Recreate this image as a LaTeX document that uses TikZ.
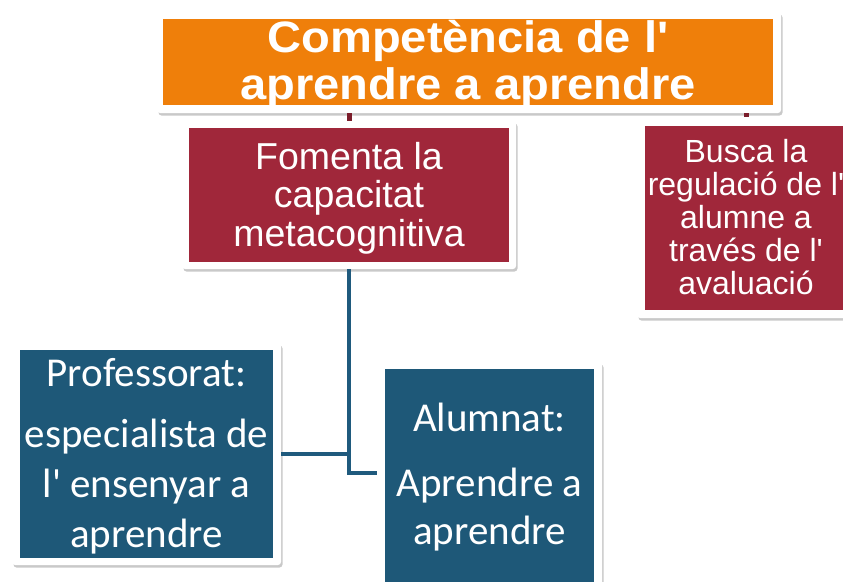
\documentclass[tikz,border=0pt]{standalone}
\usepackage{fontspec}
\setmainfont{Liberation Sans}
\newfontfamily\arialfont{Liberation Sans}
\newfontfamily\titlefont[FakeStretch=1.07]{Liberation Sans}
\newfontfamily\calfont{Carlito}
\usetikzlibrary{shadows}
\definecolor{orangefill}{HTML}{EF7F0A}
\definecolor{redfill}{HTML}{A0273A}
\definecolor{bluefill}{HTML}{1E5878}
\definecolor{redline}{HTML}{7B1D2B}
\definecolor{blueline}{HTML}{1F5A7D}
\tikzset{
  frame/.style={fill=white, rounded corners=3pt, inner sep=0pt, outer sep=0pt,
    drop shadow={shadow xshift=1.5pt, shadow yshift=-2.5pt, opacity=0.3, fill=black!70}},
  boxfill/.style={inner sep=0pt, outer sep=0pt},
  boxtext/.style={text=white, align=center, inner sep=0pt},
  redconn/.style={draw=redline, line width=5pt},
  blueconn/.style={draw=blueline, line width=4.5pt},
}
\begin{document}
\begin{tikzpicture}[x=1pt,y=-1pt]
\useasboundingbox (0,0) rectangle (843,581);
% frames
\node[frame, minimum width=624pt, minimum height=101pt] (topframe) at (469,62.5) {};
\node[frame, minimum width=334pt, minimum height=148pt] (fomframe) at (349,195) {};
\node[frame, minimum width=218pt, minimum height=201pt] (busframe) at (746,217.5) {};
\node[frame, minimum width=269pt, minimum height=222pt] (proframe) at (146.5,454) {};
\node[frame, minimum width=225pt, minimum height=238pt] (aluframe) at (489.5,481) {};
% fills
\node[boxfill, fill=orangefill, minimum width=610pt, minimum height=86pt] (topfill) at (468,62) {};
\node[boxfill, fill=redfill, minimum width=320pt, minimum height=134pt] (fomfill) at (349,195) {};
\node[boxfill, fill=redfill, minimum width=202pt, minimum height=184pt] (busfill) at (746,218) {};
\node[boxfill, fill=bluefill, minimum width=253pt, minimum height=208pt] (profill) at (146.5,454) {};
\node[boxfill, fill=bluefill, minimum width=209pt, minimum height=231pt] (alufill) at (489.5,484.5) {};
% texts
\node[boxtext, font=\titlefont\bfseries\fontsize{44}{47}\selectfont] (toptext) at (468,64)
  {Competència de l'\\aprendre a aprendre};
\node[boxtext, font=\arialfont\fontsize{37.5}{38.5}\selectfont] (fomtext) at (349,198)
  {Fomenta la\\capacitat\\metacognitiva};
\node[boxtext, font=\arialfont\fontsize{32}{33}\selectfont] (bustext) at (746,217)
  {Busca la\\regulació de l'\\alumne a\\través de l'\\avaluació};
\node[boxtext, font=\calfont\fontsize{41}{50}\selectfont] (protext) at (146.5,456)
  {Professorat:\\[11pt]especialista de\\l' ensenyar a\\aprendre};
\node[boxtext, font=\calfont\fontsize{41}{48}\selectfont] (alutext) at (489.5,477)
  {Alumnat:\\[17pt]Aprendre a\\aprendre};
% connectors
\draw[redconn] (topframe.south -| fomframe.north) -- (fomframe.north);
\draw[redconn] (topframe.south -| busframe.north) -- (busframe.north);
\coordinate (junction) at (349,473);
\draw[blueconn] (fomframe.south) -- (junction) -- (junction -| aluframe.west);
\draw[blueconn] (proframe.east) -- (proframe.east -| fomframe.south);
\end{tikzpicture}
\end{document}
